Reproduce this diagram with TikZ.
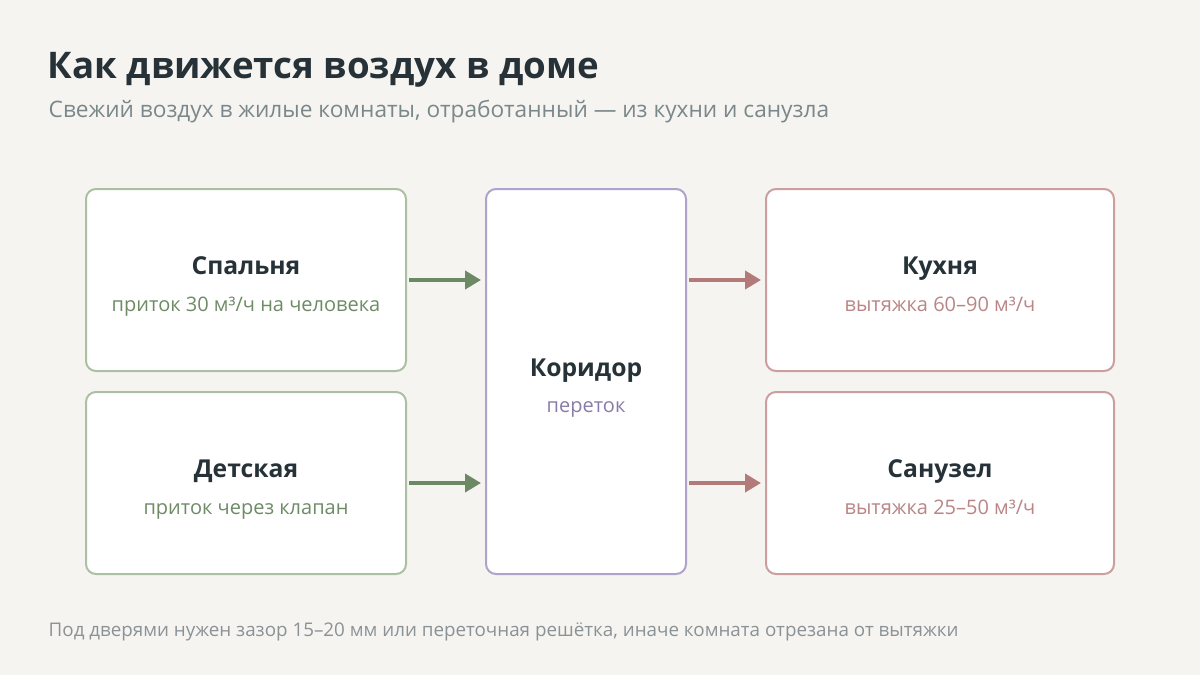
\documentclass[tikz,border=0pt]{standalone}
\usepackage{fontspec}
\setmainfont{Open Sans}
\usepackage{xcolor}
\usepackage{tikz}
\usetikzlibrary{arrows.meta}
\usetikzlibrary{positioning}
\definecolor{fond}{HTML}{F6F4F0}
\definecolor{encre}{HTML}{263238}
\definecolor{gris}{HTML}{7A878B}
\definecolor{grisclair}{HTML}{8A9296}
\definecolor{vertbord}{HTML}{ABC0A2}
\definecolor{vertfleche}{HTML}{6B8A63}
\definecolor{verttexte}{HTML}{6E8B66}
\definecolor{violetbord}{HTML}{AFA3CB}
\definecolor{violettexte}{HTML}{8A7CA8}
\definecolor{rougebord}{HTML}{CC9E9E}
\definecolor{rougefleche}{HTML}{B37A7A}
\definecolor{rougetexte}{HTML}{B98585}
\tikzstyle{piece}=[
        rectangle,
        draw,
        line width=1.5pt,
        rounded corners=7.5pt,
        fill=white,
        align=center,
        inner sep=0pt,
        font=\fontsize{15pt}{27.5pt}\selectfont
]
\tikzstyle{entree}=[piece,draw=vertbord,minimum width=240pt,minimum height=136.5pt]
\tikzstyle{passage}=[piece,draw=violetbord,minimum width=150pt,minimum height=288.75pt]
\tikzstyle{sortie}=[piece,draw=rougebord,minimum width=261pt,minimum height=136.5pt]
\tikzstyle{flux}=[line width=3pt,-{Triangle[length=12pt,width=13.5pt]}]
\newcommand{\piecetexte}[3]{\rule{0pt}{24pt}{\fontsize{18.5pt}{27.5pt}\selectfont\bfseries\color{encre}#1}\\\rule[-4.5pt]{0pt}{4.5pt}{\color{#3}#2}}

\begin{document}
\begin{tikzpicture}[x=0.75pt,y=-0.75pt]
\useasboundingbox[fill=fond] (0,0) rectangle (1200,675);
\node[anchor=base west,font=\fontsize{27.5pt}{32pt}\selectfont\bfseries,text=encre] (titre) at (43,78) {Как движется воздух в доме};
\node[anchor=base west,font=\fontsize{17pt}{20pt}\selectfont,text=gris] (soustitre) at (44,117) {Свежий воздух в жилые комнаты, отработанный — из кухни и санузла};
\node[entree] (chambre) at (246,280) {\piecetexte{Спальня}{приток 30 м³/ч на человека}{verttexte}};
\node[entree] (enfant) at (246,483) {\piecetexte{Детская}{приток через клапан}{verttexte}};
\node[passage] (couloir) at (586,381.5) {\piecetexte{Коридор}{переток}{violettexte}};
\node[sortie] (cuisine) at (940,280) {\piecetexte{Кухня}{вытяжка 60–90 м³/ч}{rougetexte}};
\node[sortie] (bain) at (940,483) {\piecetexte{Санузел}{вытяжка 25–50 м³/ч}{rougetexte}};
\node[anchor=base west,font=\fontsize{14.1pt}{17pt}\selectfont,text=grisclair] (note) at (44,636) {Под дверями нужен зазор 15–20 мм или переточная решётка, иначе комната отрезана от вытяжки};
%Drawing Edges
\draw[flux,vertfleche] ([xshift=1.5pt]chambre.east) -- ([xshift=-3pt]chambre.east -| couloir.west);
\draw[flux,vertfleche] ([xshift=1.5pt]enfant.east) -- ([xshift=-3pt]enfant.east -| couloir.west);
\draw[flux,rougefleche] ([xshift=1.5pt]chambre.east -| couloir.east) -- ([xshift=-3pt]cuisine.west);
\draw[flux,rougefleche] ([xshift=1.5pt]enfant.east -| couloir.east) -- ([xshift=-3pt]bain.west);
\end{tikzpicture}
\end{document}
